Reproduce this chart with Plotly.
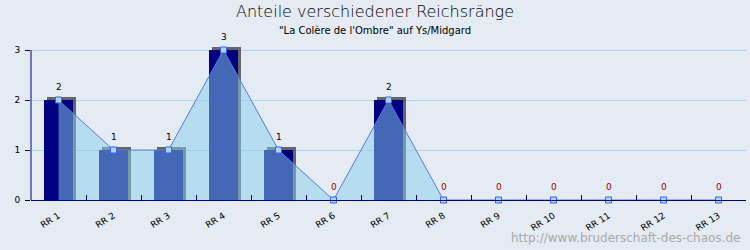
import plotly.graph_objects as go

categories = ["RR 1", "RR 2", "RR 3", "RR 4", "RR 5", "RR 6", "RR 7",
              "RR 8", "RR 9", "RR 10", "RR 11", "RR 12", "RR 13"]
values = [2, 1, 1, 3, 1, 0, 2, 0, 0, 0, 0, 0, 0]
y_ticks = [0, 1, 2, 3]

title = "Anteile verschiedener Reichsränge"
subtitle = "\"La Colère de l'Ombre\" auf Ys/Midgard"
watermark = "http://www.bruderschaft-des-chaos.de"

W, H = 750, 250
L, R, T, B = 31, 4, 40, 50
PW, PH = W - L - R, H - T - B
slot_px = PW / len(categories)
unit_px = PH / 3.2
bar_w = 29 / slot_px
sh_dx = 3 / slot_px
sh_dy = 3 / unit_px

BG = "#E4EBF2"
NAVY = "#000080"
FONT = "DejaVu Sans"

fig = go.Figure()

# shadow
fig.add_trace(go.Bar(
    x=categories,
    y=[v + sh_dy if v > 0 else None for v in values],
    width=bar_w, offset=-bar_w / 2 + sh_dx,
    marker=dict(color="#666666", line=dict(width=0)),
    hoverinfo="skip", showlegend=False,
))
# bars
fig.add_trace(go.Bar(
    x=categories, y=values,
    width=bar_w, offset=-bar_w / 2,
    marker=dict(color=NAVY, line=dict(width=0)),
    showlegend=False,
))
# area
fig.add_trace(go.Scatter(
    x=categories, y=values, mode="lines+markers",
    fill="tozeroy", fillcolor="rgba(135,206,235,0.5)",
    line=dict(color="#5A78D8", width=1),
    marker=dict(symbol="square", size=6, color="#A9D8F2",
                line=dict(color="#3A5CFF", width=1)),
    cliponaxis=False, showlegend=False,
))

for c, v in zip(categories, values):
    fig.add_annotation(
        x=c, y=v, text=str(v), showarrow=False, yshift=13,
        font=dict(family=FONT, size=9, color="#000000" if v > 0 else "#A00000"),
    )

# y axis line (only up to 3)
fig.add_shape(type="line", xref="paper", yref="y", x0=0, x1=0, y0=0, y1=3,
              line=dict(color=NAVY, width=1))

def px_x(x):
    return (x - L) / PW

def px_y(y):
    return (H - B - y) / PH

fig.add_annotation(xref="paper", yref="paper", x=px_x(375), y=px_y(12),
                   text=title, showarrow=False, yanchor="middle", xanchor="center",
                   font=dict(family=FONT, size=16, color="#000000", weight=200))
fig.add_annotation(xref="paper", yref="paper", x=px_x(375), y=px_y(30),
                   text=subtitle, showarrow=False, yanchor="middle", xanchor="center",
                   font=dict(family=FONT, size=10, color="#000000"))
fig.add_annotation(xref="paper", yref="paper", x=px_x(742), y=px_y(238),
                   text=watermark, showarrow=False, yanchor="middle", xanchor="right",
                   font=dict(family=FONT, size=12, color="#AAAAAA"))

fig.update_layout(
    width=W, height=H,
    margin=dict(l=L, r=R, t=T, b=B),
    paper_bgcolor=BG, plot_bgcolor=BG,
    barmode="overlay", bargap=0,
    showlegend=False,
    font=dict(family=FONT, size=9, color="#000000"),
    xaxis=dict(
        type="category", range=[-0.5, len(categories) - 0.5],
        showline=True, linecolor=NAVY, linewidth=1,
        ticks="inside", tickson="boundaries", ticklen=5, tickcolor=NAVY,
        tickangle=-32, showgrid=False, zeroline=False,
        ticklabelstandoff=6,
        tickfont=dict(family=FONT, size=9, color="#000000"),
        fixedrange=True,
    ),
    yaxis=dict(
        range=[0, 3.2], tickvals=y_ticks, ticktext=[str(t) for t in y_ticks],
        showline=False, ticks="outside", ticklen=5, tickcolor=NAVY,
        ticklabelstandoff=3,
        showgrid=True, gridcolor="#A6D9EA", gridwidth=1, zeroline=False,
        tickfont=dict(family=FONT, size=9, color="#000000"),
        fixedrange=True,
    ),
)

fig.write_html("out.html")
